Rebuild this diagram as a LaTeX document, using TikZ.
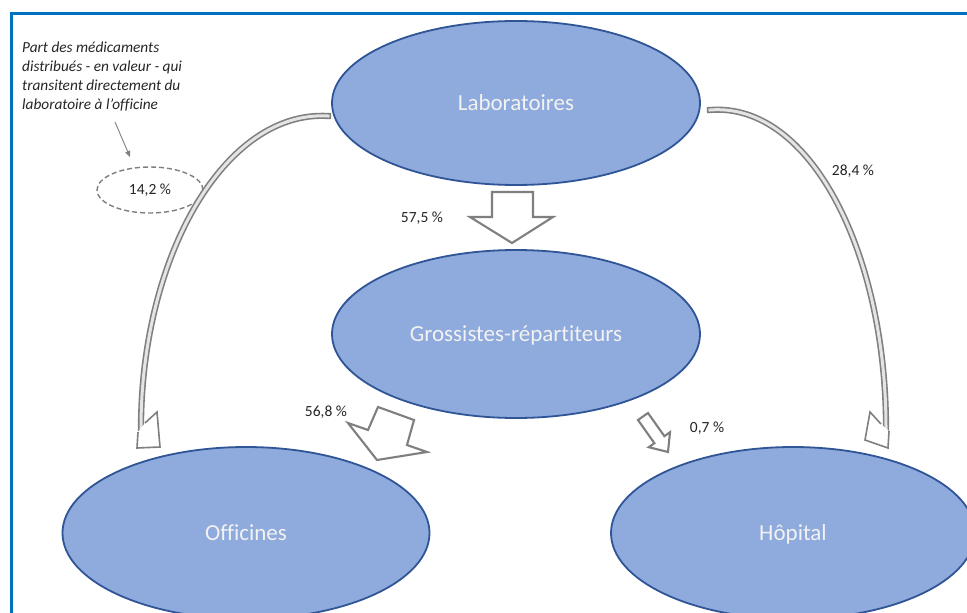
\documentclass[tikz,border=0pt]{standalone}
\usepackage{fontspec}
\setmainfont{Carlito}
\usetikzlibrary{shapes.geometric,arrows.meta}
\definecolor{frameblue}{HTML}{0070C0}
\definecolor{ellfill}{HTML}{8FAADC}
\definecolor{elldraw}{HTML}{2F5597}
\definecolor{arrgray}{HTML}{7F7F7F}
\definecolor{bandin}{HTML}{E4E4E4}
\definecolor{txt}{HTML}{262626}
\definecolor{lighttxt}{HTML}{F2F2F2}
\begin{document}
\begin{tikzpicture}[x=1pt,y=-1pt,
  bubble/.style={ellipse, fill=ellfill, draw=elldraw, line width=1.8pt, text=lighttxt,
    font=\fontsize{23}{27}\selectfont\addfontfeature{Ligatures=NoCommon}, inner sep=0pt, text height=15pt, text depth=1pt},
  pct/.style={font=\fontsize{15.5}{18}\selectfont, text=txt, inner sep=0pt},
  blockarrow/.style={draw=arrgray, fill=white, line width=2.1pt, line join=miter},
  band/.style={draw=arrgray, double=bandin, line width=1.6pt, double distance=3pt, line cap=rect},
  headshape/.style={draw=arrgray, fill=white, line width=1.6pt, line join=miter}]
\useasboundingbox (0,0) rectangle (967,613);
\clip (0,0) rectangle (967,613);
\fill[white] (0,0) rectangle (967,613);
\draw[frameblue, line width=3pt] (11,13) rectangle (1000,660);

% ellipses
\node[bubble, minimum width=368pt, minimum height=164pt] (labo) at (516,103) {Laboratoires};
\node[bubble, minimum width=368pt, minimum height=168pt] (gross) at (516,334) {Grossistes-répartiteurs};
\node[bubble, minimum width=367pt, minimum height=172pt] (offi) at (246,533) {Officines};
\node[bubble, minimum width=364pt, minimum height=172pt] (hopi) at (793,533) {Hôpital};

% annotation
\node[anchor=north west, align=left, inner sep=0pt, text=txt,
  font=\fontsize{15.3}{19}\selectfont\itshape\addfontfeature{Ligatures=NoCommon}] (note) at (22,42)
  {Part des médicaments\\distribués - en valeur - qui\\transitent directement du\\laboratoire à l’officine};
\node[ellipse, draw=arrgray, dashed, dash pattern=on 5pt off 3pt, line width=1.4pt,
  minimum width=106pt, minimum height=46pt, pct] (part) at (150,190) {14,2 \%};
\coordinate (na) at (115,122);
\coordinate (nb) at (130,157);
\draw[arrgray, line width=0.9pt, -{Triangle[length=6pt,width=5pt]}] (na) -- (nb);

% curved arrows
\coordinate (ls) at (328,116);
\coordinate (le) at (141,428);
\coordinate (rs) at (710,110);
\coordinate (re) at (886,428);
\draw[band] (ls) .. controls (225,110) and (141,256) .. (le);
\draw[band] (rs) .. controls (810,102) and (886,252) .. (re);
\path[headshape] (138,432) -- (137,448) -- (160,447) -- (157,412) -- (145,423);
\path[headshape] (881,424) -- (870,412) -- (865,440) -- (888,448) -- (889,431);

% block arrows
\draw[blockarrow] (492,192) -- (533,192) -- (533,217) -- (553,217) -- (512,243) -- (470,217) -- (492,217) -- cycle;
\draw[blockarrow] (378,407) -- (414,420) -- (407,445) -- (427,452) -- (377,460) -- (348,423) -- (368,430) -- cycle;
\draw[blockarrow] (638,420) -- (648,413) -- (664.4,436.2) -- (670,432.2) -- (668,452) -- (648.8,447.2) -- (654.4,443.2) -- cycle;

% labels
\node[pct] (l575) at (422,218) {57,5 \%};
\node[pct] (l568) at (326,412) {56,8 \%};
\node[pct] (l07) at (707,428) {0,7 \%};
\node[pct] (l284) at (853,171) {28,4 \%};
\end{tikzpicture}
\end{document}
